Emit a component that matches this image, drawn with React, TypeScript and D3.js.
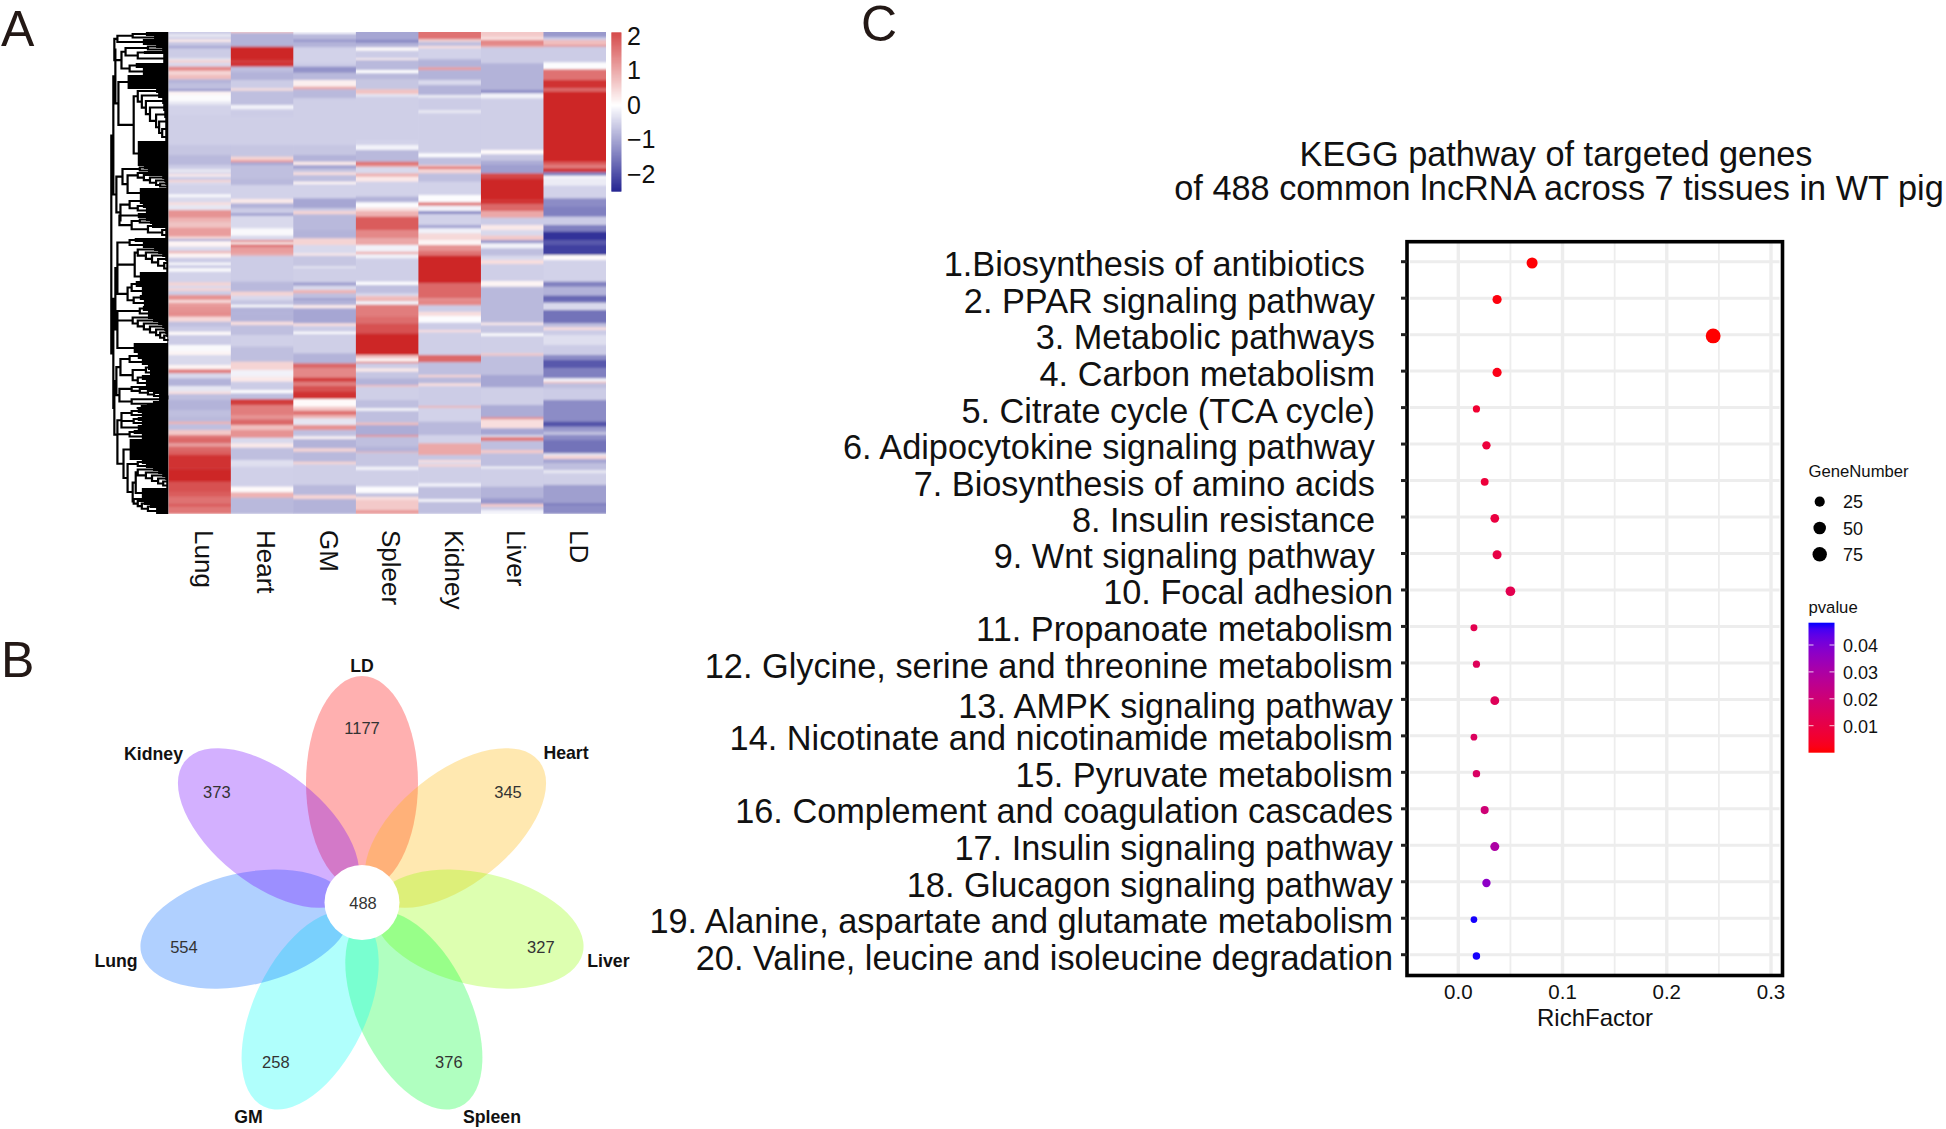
import React from "react";
import * as d3 from "d3";

const FONT = "'Liberation Sans', Arial, sans-serif";

// ---------- Panel A: heatmap ----------
const tissues = ["Lung", "Heart", "GM", "Spleer", "Kidney", "Liver", "LD"];
const heatTicks = [2, 1, 0, -1, -2];

// Each tissue: four consecutive blocks of stacked stripes, [stripe end, z-score].
const lungBands = [
  [[12,-.4],[22,-.2],[28,-.4],[36,.2],[48,-.45],[55,-.7],[85,-.4],[90,-.2],[98,.4],[110,-.3],[122,1.1],[135,.4],[148,.6],[160,-.6],[178,-.5],[184,-.9],[195,.1],[215,-.03],[225,-.2],[255,-.35],[345,-.38],[375,-.45],[405,-.55]],
  [[12,-.4],[22,-.2],[27,-.3],[31,.3],[35,.1],[45,-.4],[52,.4],[60,-.3],[88,-.35],[97,-.05],[112,-.3],[120,.3],[135,-.2],[158,1.0],[172,.7],[188,.55],[215,.9],[222,.3],[228,-.7],[245,.1],[258,-.3],[265,.7],[278,.1],[293,-.4],[300,-.05],[310,-.4],[320,-.03],[352,-.35],[362,.4],[370,-.3],[378,.4],[390,-.4],[405,1.0]],
  [[8,.3],[20,.9],[35,1.0],[50,1.05],[65,.35],[80,-.5],[95,-.4],[105,.05],[135,-.4],[155,-.05],[165,.1],[195,-.3],[208,.1],[220,1.2],[235,-.3],[258,-.6],[275,-.2],[282,.3],[300,-.5],[330,-.6],[350,-.5],[365,-.55],[372,.7],[390,-.5],[405,.5]],
  [[8,1.2],[25,1.4],[35,.9],[50,1.4],[60,1.5],[100,1.9],[140,2],[170,1.6],[185,1.5],[205,1.3],[215,1.5],[238,1.25],[405,0]],
];
const heartBands = [
  [[9,.5],[50,-.6],[90,2],[98,1.8],[110,1.9],[125,-.5],[150,-.6],[175,-.4],[182,.3],[225,-.5],[238,-.1],[260,-.4],[345,-.38],[380,-.45],[390,.4],[397,.9],[405,-.7]],
  [[40,-.5],[60,-.55],[102,-.35],[115,.2],[130,-.6],[145,-.4],[152,-.8],[190,-.3],[212,-.05],[225,-.3],[232,1.1],[238,.1],[247,1.3],[265,.9],[272,.8],[350,-.4],[380,-.55],[392,.4],[405,-.3]],
  [[15,-.45],[22,-.03],[40,-.6],[65,-.6],[75,.3],[105,-.5],[140,-.37],[185,-.5],[210,.4],[230,-.1],[245,.2],[270,-.4],[280,-.02],[297,-.5],[315,1.8],[345,1.2],[358,1.0],[375,1.4],[390,.6],[405,1.0]],
  [[8,1.0],[25,-.3],[38,.2],[75,-.5],[95,-.25],[155,-.37],[172,.05],[188,.7],[238,-.55],[405,0]],
];
const gmBands = [
  [[12,-.1],[28,-.55],[36,-.8],[52,-.6],[100,-.35],[110,-.4],[128,-.85],[150,-.55],[170,.15],[178,.8],[205,-.55],[345,-.38],[375,-.45],[395,-.6],[405,.2]],
  [[12,-.7],[22,-.45],[30,.3],[50,-.5],[58,.1],[100,-.35],[130,-.7],[138,-.4],[148,.4],[195,-.55],[220,-.6],[240,.4],[265,-.3],[272,.2],[305,-.45],[308,-.03],[352,-.38],[362,-.75],[375,-.3],[385,.7],[400,-.5],[405,-.8]],
  [[15,-.6],[25,.2],[70,-.7],[78,.3],[95,-.4],[102,-.03],[160,-.38],[190,-.6],[205,1.4],[233,1.1],[245,1.8],[258,1.2],[275,1.6],[297,1.9],[320,.05],[332,.5],[345,1.3],[355,.7],[375,-.2],[390,1.0],[405,-.5]],
  [[5,-.4],[12,.1],[40,-.6],[50,.4],[80,-.55],[88,.4],[150,-.38],[180,-.55],[192,.4],[238,-.6],[405,0]],
];
const spleenBands = [
  [[30,-.7],[38,-.95],[52,-.6],[62,.05],[85,-.4],[90,.15],[120,-.55],[130,-.02],[148,-.55],[178,-.45],[192,.55],[200,-.2],[330,-.38],[345,-.35],[360,-.1],[395,-.55],[405,1.3]],
  [[6,.9],[25,-.3],[35,.7],[50,.2],[95,-.35],[112,-.6],[128,-.02],[138,.3],[155,.7],[195,1.5],[220,1.1],[240,.8],[260,-.1],[268,.7],[280,-.1],[350,-.38],[360,-.02],[385,-.5],[393,-.3],[405,.6]],
  [[3,.9],[14,-.1],[50,1.2],[70,1.35],[100,1.6],[165,2],[175,.6],[185,.1],[190,1.2],[205,-.4],[215,.2],[235,-.45],[255,-.6],[260,.6],[300,-.38],[325,-.5],[332,-.03],[368,-.5],[375,.6],[405,-.65]],
  [[5,1.0],[35,-.5],[50,-.6],[53,.7],[95,-.45],[105,-.1],[155,-.38],[175,-.02],[185,-.5],[195,.3],[225,.5],[238,.9],[405,0]],
];
const kidneyBands = [
  [[28,1.3],[35,.4],[48,-.5],[55,.3],[88,-.35],[112,-.6],[120,.9],[150,-.6],[165,-.3],[195,-.6],[203,-.15],[240,-.4],[250,-.2],[370,-.38],[382,-.02],[405,-.5]],
  [[5,.5],[12,1.3],[25,.4],[50,-.5],[90,-.35],[112,-.02],[122,1.2],[138,-.1],[147,-.9],[180,-.35],[190,-.7],[205,-.1],[225,.35],[240,.1],[258,1.0],[272,1.3],[355,2],[400,1.4],[405,1]],
  [[16,1.1],[35,-.4],[48,.3],[68,-.02],[90,-.4],[97,.3],[165,-.38],[187,1.4],[225,-.5],[232,.4],[250,-.55],[258,.3],[318,-.4],[323,.7],[365,-.35],[405,-.55]],
  [[25,-.35],[60,.8],[75,-.45],[82,.3],[88,-.3],[95,.4],[145,-.38],[155,-.1],[193,-.5],[200,-.02],[238,-.5],[405,0]],
];
const liverBands = [
  [[20,.5],[30,.3],[47,1.1],[52,.8],[100,-.4],[180,-.6],[190,-.9],[205,-.1],[360,-.38],[373,.05],[392,-.45],[405,-.65]],
  [[25,-.75],[40,1.7],[102,2],[118,1.85],[138,1.4],[158,.8],[180,-.4],[195,.2],[212,-.3],[225,.5],[235,-.8],[250,-.1],[272,-.5],[285,-.3],[297,.3],[348,-.38],[365,.1],[405,-.55]],
  [[68,-.55],[75,.2],[100,-.45],[108,-.03],[160,-.38],[167,.5],[225,-.5],[262,-.7],[315,-.38],[352,-.65],[358,1.1],[385,.3],[405,-.7]],
  [[6,-.3],[18,1.2],[45,-.5],[55,.5],[95,-.5],[100,-.03],[155,-.38],[190,-.6],[207,-.8],[215,.5],[225,-.4],[238,-.1],[405,0]],
];
const ldBands = [
  [[22,-.8],[30,-.4],[45,.6],[50,1.0],[97,-.4],[118,-.02],[150,1.3],[175,1.9],[185,1.4],[395,2],[405,1.5]],
  [[10,1.2],[22,1.9],[32,-1.0],[40,-.02],[62,-.15],[100,-.35],[125,-.9],[155,-1.0],[180,-.4],[200,-1.0],[225,-1.6],[240,-1.3],[270,-1.5],[285,.05],[350,-.35],[365,-1.0],[392,-.6],[405,-1.2]],
  [[8,-1.1],[30,-.3],[70,-1.1],[82,-.5],[90,.3],[105,-.4],[135,-.25],[165,-.4],[180,-.9],[205,-1.3],[235,-1.0],[245,-.1],[250,.6],[265,-.5],[300,-.4],[365,-.9],[380,-1.35],[395,-.8],[405,-.5]],
  [[15,-.9],[55,-1.1],[62,-.2],[72,.4],[85,-.7],[105,-.5],[115,-.2],[150,-.38],[205,-.75],[210,-1.1],[238,-.9],[405,0]],
];
const tissueBands = [lungBands, heartBands, gmBands, spleenBands, kidneyBands, liverBands, ldBands];

// Dendrogram: [merge distance, child, child...] or, for a tight cluster, [merge distance, gene rows].
const cladeA = [53,
  [50, [35, [22, 4], [14, 3]], [25, 6]],
  [46, [42, [20, [12, 3], [6, 3]], [30, [24, 3], [5, 9]]], [38, [32, 5], [25, 7]]]];
const cladeB = [49, [40, 14],
  [34, [30, [12, 4], [26, [10, 5], [22, [6, 6], [18, [5, 7], [12, [4, 7], [9, [3, 7], [6, [3, 8], [3, 8]]]]]]]], [30, 25]]];
const cladeC = [45, [28, [24, 3], [20, 3]],
  [40, [30, [14, 2], [24, [10, 2], [18, [6, 3], [12, [4, 3], [8, [3, 3], [2, 3]]]]]], [28, 10]]];
const cladeD = [38, [28, 6], [30, [25, 4], [22, 5]]];
const cladeE = [48, [30, 5], [36, [28, [22, 3], [18, 3]], [20, [16, 4], [6, [3, 4], [3, 6]]]]];
const cladeF = [50, [38, [33, 4], [25, 6]],
  [33, [30, [14, 3], [22, [10, 3], [16, [6, 3], [10, [3, 4], [4, [2, 4], [2, 7]]]]]], [28, 9]],
  [40, [36, [32, 6], [26, 8]], [34, [28, 5], [24, 6]]]];
const cladeG = [50, [28, [25, 5], [20, 5]],
  [35, [20, 3], [30, [15, 3], [24, [10, 3], [18, [6, 3], [12, [4, 3], [8, [3, 3], [4, [2, 3], [1, 6]]]]]]]],
  [34, 10]];
const cladeH = [47, [38, [30, 6], [26, 6]], [35, [22, [20, 5], [18, 5]], [30, [26, 5], [22, 6]]]];
const cladeWedgeTop = [36, [34, 2], [28, [26, 2], [20, [18, 2], [14, [12, 2], [8, [6, 2], [2, [1, 1], [1, 1]]]]]]];
const cladeWedgeLow = [36, [8, [1, 1], [5, 2]], [14, [11, 2], [20, [17, 2], [26, [23, 2], [30, 2]]]]];
const cladeI = [46, [36, [30, 4], [26, 4]], [34, [30, 4], [26, 4]], [30, 5]];
const cladeJ = [50, [38, [34, 4], [26, 5]],
  [44, [38, 21], [40, [30, [26, 4], [22, 4]],
    [35, [32, [30, [15, 3], [22, [10, 3], [16, [6, 3], [10, [3, 3], [5, [2, 3], [2, 5]]]]]], [26, 10]],
      [34, [32, 2], [30, [28, 2], [26, [24, 3], [20, [18, 3], [12, 6]]]]]]]]];
const dendroRoot = [56,
  [54, [52, cladeA, cladeB], [51, cladeC, [47, cladeD, cladeE]]],
  [54, [52, cladeF, cladeG], [53, [51, cladeH, [48, cladeWedgeTop, cladeWedgeLow]], [50, cladeI, cladeJ]]]];

// ---------- Panel B: flower Venn ----------
const petalNames = ["LD", "Heart", "Liver", "Spleen", "GM", "Lung", "Kidney"];
const petalCounts = [1177, 345, 327, 376, 258, 554, 373];
const petalColors = ["#ff0000", "#ffb600", "#92ff00", "#00ff33", "#00fff5", "#0066ff", "#7000ff"];
const coreCount = 488;

// ---------- Panel C: KEGG dot plot ----------
const pathways = [
  "1.Biosynthesis of antibiotics", "2. PPAR signaling pathway", "3. Metabolic pathways", "4. Carbon metabolism",
  "5. Citrate cycle (TCA cycle)", "6. Adipocytokine signaling pathway", "7. Biosynthesis of amino acids",
  "8. Insulin resistance", "9. Wnt signaling pathway", "10. Focal adhesion", "11. Propanoate metabolism",
  "12. Glycine, serine and threonine metabolism", "13. AMPK signaling pathway",
  "14. Nicotinate and nicotinamide metabolism", "15. Pyruvate metabolism", "16. Complement and coagulation cascades",
  "17. Insulin signaling pathway", "18. Glucagon signaling pathway",
  "19. Alanine, aspartate and glutamate metabolism", "20. Valine, leucine and isoleucine degradation",
];
const richFactor = [.0708, .0372, .2445, .0372, .0174, .027, .0253, .035, .0372, .05, .015, .0174, .035, .015, .0174, .0253, .035, .027, .015, .0174];
const geneNumber = [33, 17, 82, 17, 6, 12, 9, 14, 16, 21, 5, 6, 15, 4, 7, 10, 16, 12, 4, 7];
const pValue = [.0003, .001, 0, .002, .006, .008, .008, .009, .01, .012, .012, .014, .014, .015, .016, .02, .03, .037, .048, .048];
const richTicks = [0, .1, .2, .3];
const richMinor = [.05, .15, .25];
const sizeLegend = [25, 50, 75];
const pTicks = [.04, .03, .02, .01];

const heatColor = d3.scaleLinear<string>().domain([-2, 0, 2]).range(["#000080", "#ffffff", "#CD2626"]).clamp(true);
const pColor = (p: number) => d3.interpolateLab("#ff0000", "#0000ff")(p / 0.0483);

function HeatPanel() {
  const left = 168.3, right = 606, top = 32, bottom = 514;
  const x = d3.scaleBand().domain(tissues).range([left, right]);
  const yBlock = d3.scaleLinear().domain([0, 1620]).range([30, 570]);
  const barY = d3.scaleLinear().domain([2, -2]).range([35.5, 174]);
  const barTop = 32.4, barBottom = 190.5;
  const barCells = d3.range(barTop, barBottom, 1);

  const isCluster = (d: any[]) => typeof d[1] === "number";
  const root = d3.hierarchy<any>(dendroRoot, (d: any) => (isCluster(d) ? null : d.slice(1)));
  const rowY = d3.scaleLinear().domain([0, 482]).range([top, bottom]);
  const depthX = d3.scaleLinear().domain([0, 56]).range([left, left - 57]);
  let cursor = 0;
  root.eachAfter((n: any) => {
    if (!n.children) {
      n.r0 = cursor;
      cursor += n.data[1];
      n.r1 = cursor;
      n.my = rowY((n.r0 + n.r1) / 2);
    } else {
      n.my = (n.children[0].my + n.children[n.children.length - 1].my) / 2;
    }
  });
  const dendroPath = d3.path();
  root.each((n: any) => {
    if (!n.children) return;
    const X = depthX(n.data[0]);
    dendroPath.moveTo(X, n.children[0].my);
    dendroPath.lineTo(X, n.children[n.children.length - 1].my);
    n.children.forEach((c: any) => {
      dendroPath.moveTo(X, c.my);
      dendroPath.lineTo(depthX(c.data[0]), c.my);
    });
  });

  return (
    <g>
      <defs>
        <clipPath id="heatClip"><rect x={left} y={top} width={right - left} height={bottom - top} /></clipPath>
        <filter id="soft" x="0" y="0" width="1" height="1"><feGaussianBlur stdDeviation="0 0.85" /></filter>
      </defs>
      <g clipPath="url(#heatClip)">
        <g filter="url(#soft)">
          <rect x={left} y={top} width={right - left} height={bottom - top} fill="#D4D4E9" />
          {tissues.map((t, c) =>
            tissueBands[c].map((block, b) => {
              let prev = 0;
              return block.map(([end, v], i) => {
                const y0 = yBlock(b * 405 + prev);
                const y1 = yBlock(b * 405 + end);
                prev = end;
                return <rect key={t + b + i} x={x(t)} y={y0} width={x.bandwidth() + 0.5} height={y1 - y0 + 0.3} fill={heatColor(v)} />;
              });
            })
          )}
        </g>
      </g>
      <path d={dendroPath.toString()} fill="none" stroke="#000" strokeWidth={2.2} strokeLinecap="square" />
      {root.leaves().map((n: any, i) => (
        <rect key={i} x={depthX(n.data[0])} y={rowY(n.r0)} width={left - depthX(n.data[0])} height={rowY(n.r1) - rowY(n.r0)} fill="#000" />
      ))}
      {barCells.map((py) => {
        const v = barY.invert(py);
        return <rect key={py} x={611.4} y={py} width={10} height={1.2} fill={heatColor(v * 2 / (v < 0 ? 2.45 : 2.13))} />;
      })}
      {heatTicks.map((t) => (
        <text key={t} x={627} y={barY(t) + 9} fontSize={25} fontFamily={FONT} fill="#111">{t < 0 ? "\u2212" + Math.abs(t) : t}</text>
      ))}
      {tissues.map((t) => (
        <text key={t} transform={`translate(${x(t)! + x.bandwidth() / 2 - 5},530) rotate(90)`} fontSize={26} fontFamily={FONT} fill="#111">{t}</text>
      ))}
    </g>
  );
}

function VennPanel() {
  const cx = 362, cy = 902.5;
  const labelPos: [number, number][] = [[362, 672], [566, 759], [608.4, 966.7], [492, 1122.5], [248.5, 1122.5], [116, 966.7], [153.5, 759.5]];
  const countPos: [number, number][] = [[362, 734], [508, 797.5], [540.8, 953], [448.8, 1067.5], [275.8, 1067.5], [183.9, 953], [216.8, 797.5]];
  const angle = d3.scaleLinear().domain([0, petalNames.length]).range([0, 360]);
  return (
    <g fontFamily={FONT}>
      {petalNames.map((n, i) => (
        <ellipse key={n} cx={cx} cy={cy - 119.5} rx={56} ry={107} fill={petalColors[i]} fillOpacity={0.31} transform={`rotate(${angle(i)},${cx},${cy})`} />
      ))}
      <circle cx={cx} cy={cy} r={37.5} fill="#fff" />
      {petalNames.map((n, i) => (
        <text key={n} x={labelPos[i][0]} y={labelPos[i][1]} textAnchor="middle" fontSize={17.7} fontWeight="bold" fill="#111">{n}</text>
      ))}
      {petalCounts.map((v, i) => (
        <text key={i} x={countPos[i][0]} y={countPos[i][1]} textAnchor="middle" fontSize={16.5} fill="#333">{v}</text>
      ))}
      <text x={363} y={908.5} textAnchor="middle" fontSize={16.5} fill="#333">{coreCount}</text>
    </g>
  );
}

function DotPanel() {
  const L = 1407, R = 1782.5, T = 241.7, B = 975.5;
  const x = d3.scaleLinear().domain([0, .3]).range([1458.3, 1771]);
  const y = d3.scalePoint<string>().domain(pathways).range([261.7, 954.7]);
  const size = d3.scalePow().exponent(0.5).domain([0, 88]).range([2.2, 7.6]);
  const labelBase = [276.2, 312.9, 348.9, 386.2, 422.9, 459.2, 496.2, 531.9, 567.9, 604.2, 641.2, 677.9, 717.9, 750.2, 786.9, 823.2, 860.2, 896.9, 932.9, 969.5];
  const labelEnd = (i: number) => (i === 0 ? 1365 : i < 9 ? 1375 : 1393);
  const pY = d3.scaleLinear().domain([0, .04]).range([752.6, 645]);
  const stops = d3.range(0, 21).map((i) => i / 20);
  return (
    <g fontFamily={FONT} fill="#111">
      <defs>
        <linearGradient id="pBar" x1="0" x2="0" y1="1" y2="0">
          {stops.map((s) => <stop key={s} offset={s} stopColor={pColor(s * .0483)} />)}
        </linearGradient>
      </defs>
      <text x={1556} y={166} textAnchor="middle" fontSize={34.3}>KEGG pathway of targeted genes</text>
      <text x={1559} y={200} textAnchor="middle" fontSize={34.3}>of 488 common lncRNA across 7 tissues in WT pig</text>
      {richMinor.map((t) => <line key={t} x1={x(t)} x2={x(t)} y1={T} y2={B} stroke="#EDEDED" strokeWidth={1.8} />)}
      {richTicks.map((t) => <line key={t} x1={x(t)} x2={x(t)} y1={T} y2={B} stroke="#EDEDED" strokeWidth={3.4} />)}
      {pathways.map((p) => <line key={p} x1={L + 3} x2={R - 3} y1={y(p)} y2={y(p)} stroke="#EDEDED" strokeWidth={3} />)}
      {pathways.map((p, i) => (
        <circle key={p} cx={x(richFactor[i])} cy={y(p)! + 1.3} r={size(geneNumber[i])} fill={pColor(pValue[i])} />
      ))}
      <rect x={L} y={T} width={R - L} height={B - T} fill="none" stroke="#000" strokeWidth={3.6} />
      {pathways.map((p) => <line key={p} x1={L - 6} x2={L} y1={y(p)} y2={y(p)} stroke="#222" strokeWidth={3} />)}
      {pathways.map((p, i) => (
        <text key={p} x={labelEnd(i)} y={labelBase[i]} textAnchor="end" fontSize={34.3}>{p}</text>
      ))}
      {richTicks.map((t) => (
        <text key={t} x={x(t)} y={999} textAnchor="middle" fontSize={20.5}>{t.toFixed(1)}</text>
      ))}
      <text x={1595} y={1025.8} textAnchor="middle" fontSize={24}>RichFactor</text>

      <text x={1808.5} y={477} fontSize={16.7}>GeneNumber</text>
      {sizeLegend.map((s, i) => {
        const ly = 501.7 + i * 26.3;
        return (
          <g key={s}>
            <circle cx={1819.7} cy={ly} r={size(s)} fill="#000" />
            <text x={1843} y={ly + 6.5} fontSize={18}>{s}</text>
          </g>
        );
      })}
      <text x={1808.5} y={613} fontSize={16.7}>pvalue</text>
      <rect x={1808.5} y={622.7} width={26} height={130} fill="url(#pBar)" />
      {pTicks.map((t) => (
        <g key={t}>
          <line x1={1808.5} x2={1813.5} y1={pY(t)} y2={pY(t)} stroke="#fff" strokeWidth={0.8} />
          <line x1={1829.5} x2={1834.5} y1={pY(t)} y2={pY(t)} stroke="#fff" strokeWidth={0.8} />
          <text x={1843} y={pY(t) + 7} fontSize={18}>{t.toFixed(2)}</text>
        </g>
      ))}
    </g>
  );
}

export default function App() {
  return (
    <svg width={1946} height={1129} style={{ position: "absolute", left: 0, top: 0, display: "block", background: "#fff" }}>
      <g fontFamily={FONT} fill="#231815" fontSize={50}>
        <text x={1} y={45.5}>A</text>
        <text x={1} y={677}>B</text>
        <text x={861} y={41}>C</text>
      </g>
      <HeatPanel />
      <VennPanel />
      <DotPanel />
    </svg>
  );
}
